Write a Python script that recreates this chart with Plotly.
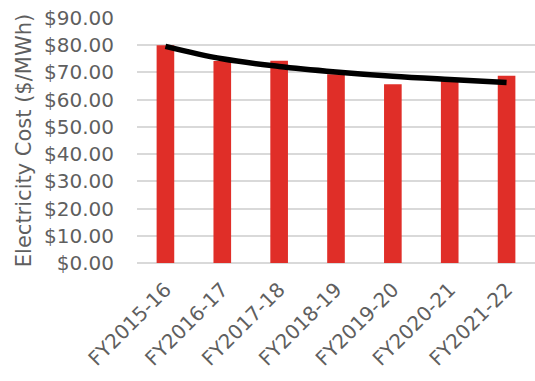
import plotly.graph_objects as go

categories = ["FY2015-16", "FY2016-17", "FY2017-18", "FY2018-19", "FY2019-20", "FY2020-21", "FY2021-22"]
cost = [80.0, 74.2, 74.3, 69.3, 65.7, 67.0, 68.8]
trend = [79.6, 75.0, 72.2, 70.2, 68.6, 67.4, 66.3]
tick_vals = [0, 10, 20, 30, 40, 50, 60, 70, 80, 90]
tick_text = ["$%.2f" % v for v in tick_vals]

FONT = "DejaVu Sans"
GRAY = "#5f5f5f"

fig = go.Figure()
fig.add_trace(go.Bar(x=categories, y=cost, marker=dict(color="#e02e28", line=dict(width=0)),
                     width=0.31, showlegend=False))
fig.add_trace(go.Scatter(x=categories, y=trend, mode="lines", line=dict(color="black", width=5.5, shape="spline"),
                         showlegend=False))

fig.update_layout(
    width=535, height=381,
    margin=dict(l=137, r=0, t=18, b=118),
    paper_bgcolor="white", plot_bgcolor="white",
    font=dict(family=FONT, color=GRAY, size=20),
    xaxis=dict(tickangle=-45, showgrid=False, showline=False, ticks="", ticklabelstandoff=10,
               tickfont=dict(size=20, color=GRAY)),
    yaxis=dict(range=[0, 90], tickvals=tick_vals, ticktext=tick_text, showgrid=True,
               gridcolor="#d9d9d9", gridwidth=1.5, zeroline=True, zerolinecolor="#d9d9d9", zerolinewidth=1.5,
               ticks="", ticklabelstandoff=22, tickfont=dict(size=20, color=GRAY),
               title=dict(text="Electricity Cost ($/MWh)", font=dict(size=21, color=GRAY), standoff=6)),
)

fig.write_html("out.html")
